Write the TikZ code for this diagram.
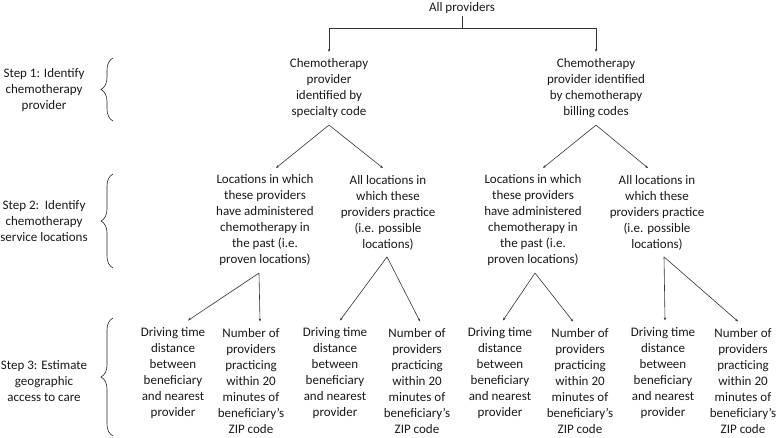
\documentclass[tikz,border=0pt]{standalone}
\usepackage{fontspec}
\setmainfont{Carlito}
\usetikzlibrary{arrows.meta,decorations.pathreplacing}
\begin{document}
\begin{tikzpicture}[x=1pt,y=-1pt,
    txt/.style={align=center,inner sep=7pt,outer sep=0pt,text=black!90,
      font=\fontsize{13}{16}\selectfont},
    link/.style={draw=black!80,line width=0.6pt,-{Stealth[length=3pt,width=2.4pt]}},
    curly/.style={draw=black!85,line width=0.6pt,decorate,
      decoration={brace,amplitude=12pt}}]
  \useasboundingbox (0,0) rectangle (778,438);
  % steps
  \node[txt] (step1) at (44,90) {Step 1: Identify\\chemotherapy\\provider};
  \node[txt] (step2) at (44,221) {Step 2:\ \ Identify\\chemotherapy\\service locations};
  \node[txt] (step3) at (44,381) {Step 3: Estimate\\geographic\\access to care};
  \draw[curly] (113,121) -- (113,58);
  \draw[curly] (113,268) -- (113,174);
  \draw[curly] (113,436) -- (113,318);
  % tree
  \node[txt,inner sep=2pt] (all) at (462,8) {All providers};
  \node[txt] (spec) at (329,88.5) {Chemotherapy\\provider\\identified by\\specialty code};
  \node[txt] (bill) at (596,88.5) {Chemotherapy\\provider identified\\by chemotherapy\\billing codes};
  \node[txt] (provA) at (265,220.5) {Locations in which\\these providers\\have administered\\chemotherapy in\\the past (i.e.\\proven locations)};
  \node[txt] (possA) at (388,212.5) {All locations in\\which these\\providers practice\\(i.e. possible\\locations)};
  \node[txt] (provB) at (533,220.5) {Locations in which\\these providers\\have administered\\chemotherapy in\\the past (i.e.\\proven locations)};
  \node[txt] (possB) at (657,212.5) {All locations in\\which these\\providers practice\\(i.e. possible\\locations)};
  \foreach \n/\x in {1/173,2/335,3/500,4/663}
    \node[txt] (drive\n) at (\x,373) {Driving time\\distance\\between\\beneficiary\\and nearest\\provider};
  \foreach \n/\x in {1/251,2/417,3/580,4/743}
    \node[txt] (count\n) at (\x,381) {Number of\\providers\\practicing\\within 20\\minutes of\\beneficiary’s\\ZIP code};
  \coordinate (split) at (462,28);
  \draw[draw=black!80,line width=0.6pt] (all.south) to (split);
  \begin{scope}[link]
    \draw (split) -| (spec.north);
    \draw (split) -| (bill.north);
    \draw (spec.south) to ([xshift=11pt]provA.north);
    \draw (spec.south) to ([xshift=-5pt]possA.north);
    \draw (bill.south) to ([xshift=10pt]provB.north);
    \draw (bill.south) to ([xshift=-9pt]possB.north);
    \draw ([xshift=-6pt]provA.south) to ([xshift=15pt]drive1.north);
    \draw ([xshift=-6pt]provA.south) to ([xshift=9pt]count1.north);
    \draw ([xshift=-1pt]possA.south) to ([xshift=5pt]drive2.north);
    \draw ([xshift=-1pt]possA.south) to ([xshift=3pt]count2.north);
    \draw ([xshift=2pt]provB.south) to ([xshift=3pt]drive3.north);
    \draw ([xshift=2pt]provB.south) to ([xshift=-7pt]count3.north);
    \draw ([xshift=7pt]possB.south) to ([xshift=2pt]drive4.north);
    \draw ([xshift=7pt]possB.south) to ([xshift=-5pt]count4.north);
  \end{scope}
\end{tikzpicture}
\end{document}
